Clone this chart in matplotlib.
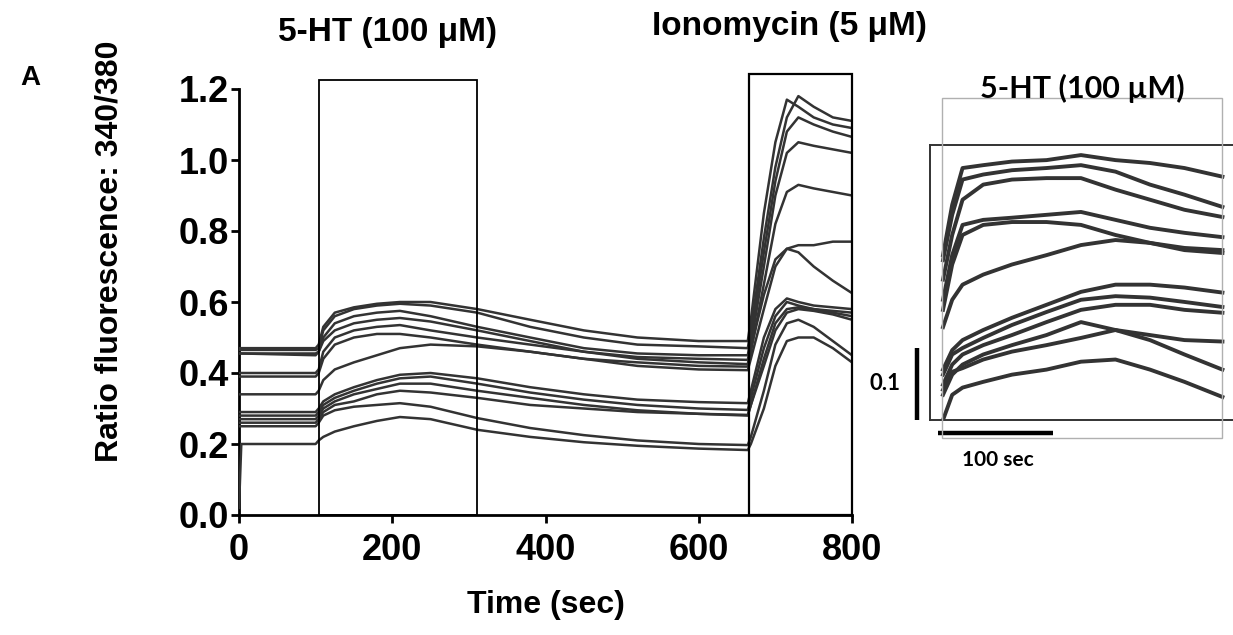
import matplotlib

matplotlib.use("Agg")

import matplotlib.pyplot as plt  # noqa: E402
from matplotlib.patches import Rectangle  # noqa: E402

# ---------------------------------------------------------------- data
# main recording, time in sec, ratio 340/380
t_main = [0, 3, 100, 104, 110, 125, 150, 180, 210, 250, 311, 380, 450,
          520, 600, 664, 668, 685, 700, 715, 730, 750, 775, 800]

cell_01 = [0.47, 0.47, 0.47, 0.48, 0.53, 0.57, 0.585, 0.595, 0.60, 0.60, 0.58, 0.55,
           0.52, 0.50, 0.49, 0.49, 0.55, 0.85, 1.05, 1.17, 1.15, 1.12, 1.10, 1.09]
cell_02 = [0.465, 0.465, 0.465, 0.47, 0.52, 0.56, 0.58, 0.59, 0.595, 0.59, 0.57, 0.53,
           0.50, 0.48, 0.475, 0.47, 0.52, 0.78, 0.98, 1.12, 1.18, 1.15, 1.12, 1.11]
cell_03 = [0.455, 0.455, 0.455, 0.46, 0.50, 0.54, 0.56, 0.57, 0.575, 0.56, 0.53, 0.50,
           0.47, 0.455, 0.45, 0.45, 0.50, 0.74, 0.94, 1.08, 1.12, 1.10, 1.08, 1.065]
cell_04 = [0.40, 0.40, 0.40, 0.41, 0.46, 0.50, 0.52, 0.53, 0.535, 0.52, 0.50, 0.48,
           0.46, 0.445, 0.44, 0.437, 0.48, 0.70, 0.90, 1.02, 1.05, 1.04, 1.03, 1.02]
cell_05 = [0.39, 0.39, 0.39, 0.40, 0.44, 0.48, 0.50, 0.51, 0.51, 0.50, 0.48, 0.46,
           0.44, 0.43, 0.42, 0.418, 0.46, 0.65, 0.82, 0.91, 0.93, 0.92, 0.91, 0.90]
cell_06 = [0.34, 0.34, 0.34, 0.35, 0.38, 0.41, 0.43, 0.45, 0.47, 0.48, 0.475, 0.46,
           0.44, 0.42, 0.41, 0.408, 0.44, 0.58, 0.70, 0.75, 0.76, 0.76, 0.77, 0.77]
cell_07 = [0.455, 0.455, 0.45, 0.46, 0.49, 0.52, 0.54, 0.55, 0.555, 0.545, 0.52, 0.49,
           0.46, 0.44, 0.43, 0.425, 0.47, 0.62, 0.72, 0.75, 0.74, 0.70, 0.66, 0.625]
cell_08 = [0.29, 0.29, 0.29, 0.30, 0.32, 0.34, 0.36, 0.38, 0.395, 0.40, 0.385, 0.36,
           0.34, 0.325, 0.318, 0.315, 0.35, 0.50, 0.58, 0.61, 0.60, 0.59, 0.585, 0.58]
cell_09 = [0.28, 0.28, 0.28, 0.29, 0.31, 0.33, 0.35, 0.37, 0.385, 0.39, 0.37, 0.345,
           0.325, 0.31, 0.30, 0.296, 0.33, 0.47, 0.56, 0.60, 0.59, 0.58, 0.57, 0.56]
cell_10 = [0.27, 0.27, 0.27, 0.28, 0.30, 0.32, 0.34, 0.355, 0.37, 0.37, 0.35, 0.33,
           0.31, 0.295, 0.285, 0.282, 0.31, 0.44, 0.54, 0.58, 0.585, 0.58, 0.575, 0.57]
cell_11 = [0.26, 0.26, 0.26, 0.27, 0.29, 0.31, 0.32, 0.34, 0.35, 0.345, 0.33, 0.31,
           0.30, 0.29, 0.285, 0.28, 0.31, 0.42, 0.52, 0.57, 0.58, 0.575, 0.565, 0.55]
cell_12 = [0.25, 0.25, 0.25, 0.26, 0.28, 0.295, 0.305, 0.31, 0.315, 0.305, 0.273, 0.245,
           0.225, 0.21, 0.20, 0.197, 0.22, 0.35, 0.48, 0.54, 0.55, 0.53, 0.49, 0.45]
cell_13 = [0.02, 0.20, 0.20, 0.21, 0.22, 0.235, 0.25, 0.265, 0.276, 0.27, 0.24, 0.22,
           0.205, 0.195, 0.187, 0.183, 0.20, 0.30, 0.42, 0.49, 0.50, 0.50, 0.47, 0.43]
main_cells = [cell_01, cell_02, cell_03, cell_04, cell_05, cell_06, cell_07,
              cell_08, cell_09, cell_10, cell_11, cell_12, cell_13]

# application windows (sec)
SERO_ON, SERO_OFF = 104, 311
IONO_ON, IONO_OFF = 666, 800

x_ticks = [0, 200, 400, 600, 800]
y_ticks = [0.0, 0.2, 0.4, 0.6, 0.8, 1.0, 1.2]

# inset: 5-HT response of a second field, time from application (sec)
t_inset = [0, 8, 17, 35, 60, 90, 120, 150, 180, 210, 243]
ins_01 = [0.426, 0.496, 0.547, 0.551, 0.556, 0.558, 0.565, 0.558, 0.554, 0.547, 0.535]
ins_02 = [0.419, 0.482, 0.531, 0.538, 0.544, 0.547, 0.551, 0.542, 0.524, 0.510, 0.493]
ins_03 = [0.392, 0.454, 0.503, 0.524, 0.531, 0.533, 0.533, 0.517, 0.503, 0.489, 0.479]
ins_04 = [0.364, 0.426, 0.468, 0.475, 0.478, 0.482, 0.486, 0.475, 0.464, 0.457, 0.451]
ins_05 = [0.350, 0.413, 0.454, 0.468, 0.472, 0.472, 0.468, 0.454, 0.443, 0.436, 0.433]
ins_06 = [0.326, 0.364, 0.385, 0.399, 0.413, 0.426, 0.440, 0.447, 0.443, 0.433, 0.429]
ins_07 = [0.267, 0.294, 0.308, 0.322, 0.339, 0.357, 0.375, 0.385, 0.385, 0.381, 0.374]
ins_08 = [0.260, 0.288, 0.297, 0.311, 0.329, 0.347, 0.364, 0.369, 0.367, 0.361, 0.354]
ins_09 = [0.246, 0.274, 0.288, 0.301, 0.315, 0.333, 0.350, 0.357, 0.357, 0.350, 0.346]
ins_10 = [0.232, 0.260, 0.274, 0.288, 0.301, 0.315, 0.333, 0.322, 0.315, 0.308, 0.306]
ins_11 = [0.239, 0.264, 0.269, 0.281, 0.292, 0.301, 0.311, 0.322, 0.308, 0.288, 0.267]
ins_12 = [0.197, 0.232, 0.242, 0.250, 0.260, 0.267, 0.278, 0.281, 0.267, 0.250, 0.229]
inset_cells = [ins_01, ins_02, ins_03, ins_04, ins_05, ins_06,
               ins_07, ins_08, ins_09, ins_10, ins_11, ins_12]

# ---------------------------------------------------------------- style
TRACE = "#333333"
ARIAL = ["Liberation Sans", "DejaVu Sans"]
CALI = ["Lato", "DejaVu Sans"]

W, H = 1233, 635
fig = plt.figure(figsize=(W / 100, H / 100), dpi=100)


def fx(px):
    return px / W


def fy(py):
    return 1 - py / H


# ---------------------------------------------------------------- main panel
ax = fig.add_axes([fx(239), fy(515), 613 / W, 426 / H])
for cell in main_cells:
    ax.plot(t_main, cell, color=TRACE, lw=1.8, solid_joinstyle="round", zorder=3)

ax.add_patch(Rectangle((SERO_ON, 0), SERO_OFF - SERO_ON, 1.225, fill=False,
                       edgecolor="black", lw=1.3, clip_on=False, zorder=4))
ax.add_patch(Rectangle((IONO_ON, 0), IONO_OFF - IONO_ON, 1.242, fill=False,
                       edgecolor="black", lw=1.6, clip_on=False, zorder=4))

ax.set_xlim(0, 800)
ax.set_ylim(0, 1.2)
ax.set_xticks(x_ticks)
ax.set_yticks(y_ticks)
ax.set_xticklabels([str(v) for v in x_ticks])
ax.set_yticklabels([f"{v:.1f}" for v in y_ticks])
for s in ("top", "right"):
    ax.spines[s].set_visible(False)
for s in ("left", "bottom"):
    ax.spines[s].set_linewidth(2.0)
ax.tick_params(axis="both", length=6, width=2.0, labelsize=26)
ax.tick_params(axis="y", pad=1)
ax.tick_params(axis="x", pad=7)
for lab in ax.get_xticklabels() + ax.get_yticklabels():
    lab.set_family(ARIAL)
    lab.set_fontweight("bold")

fig.text(fx(110), fy(251), "Ratio fluorescence: 340/380", rotation=90, ha="center",
         va="center", fontsize=23, fontweight="bold", family=ARIAL)
fig.text(fx(546), fy(605), "Time (sec)", ha="center", va="center", fontsize=23,
         fontweight="bold", family=ARIAL)
fig.text(fx(30), fy(78), "A", ha="center", va="center", fontsize=20,
         fontweight="bold", family=ARIAL)
fig.text(fx(388), fy(33), "5-HT (100 \u03bcM)", ha="center", va="center",
         fontsize=24, fontweight="bold", family=ARIAL)
fig.text(fx(789), fy(27), "Ionomycin (5 \u03bcM)", ha="center", va="center",
         fontsize=24, fontweight="bold", family=ARIAL)

# ---------------------------------------------------------------- inset
fig.add_artist(Rectangle((fx(942), fy(438)), 280 / W, 340 / H, transform=fig.transFigure,
                         fill=False, edgecolor="#b0b0b0", lw=1.0))

ai = fig.add_axes([fx(930), fy(420), (W - 930) / W, 275 / H])
for cell in inset_cells:
    ai.plot(t_inset, cell, color=TRACE, lw=2.8, solid_joinstyle="round", zorder=3)
ai.set_xlim(-11.3, 252.2)
ai.set_ylim(0.197, 0.579)
ai.set_xticks([])
ai.set_yticks([])
ai.patch.set_alpha(0)
ai.spines["right"].set_visible(False)
for s in ("top", "left", "bottom"):
    ai.spines[s].set_linewidth(1.4)
    ai.spines[s].set_color("#333333")

# scale bars: 0.1 ratio, 100 sec
ai.plot([-22.6, -22.6], [0.197, 0.297], color="black", lw=3.2, clip_on=False,
        solid_capstyle="butt")
ai.plot([-4.3, 95.7], [0.179, 0.179], color="black", lw=3.2, clip_on=False,
        solid_capstyle="butt")

fig.text(fx(885), fy(383), "0.1", ha="center", va="center", fontsize=16,
         fontweight="bold", family=CALI)
fig.text(fx(998), fy(460), "100 sec", ha="center", va="center", fontsize=15,
         fontweight="bold", family=CALI)
fig.text(fx(1082), fy(88), "5-HT (100 \u00b5M)", ha="center", va="center", fontsize=22,
         fontweight="bold", family=CALI)

fig.savefig("out.png", dpi=100, facecolor="white")
